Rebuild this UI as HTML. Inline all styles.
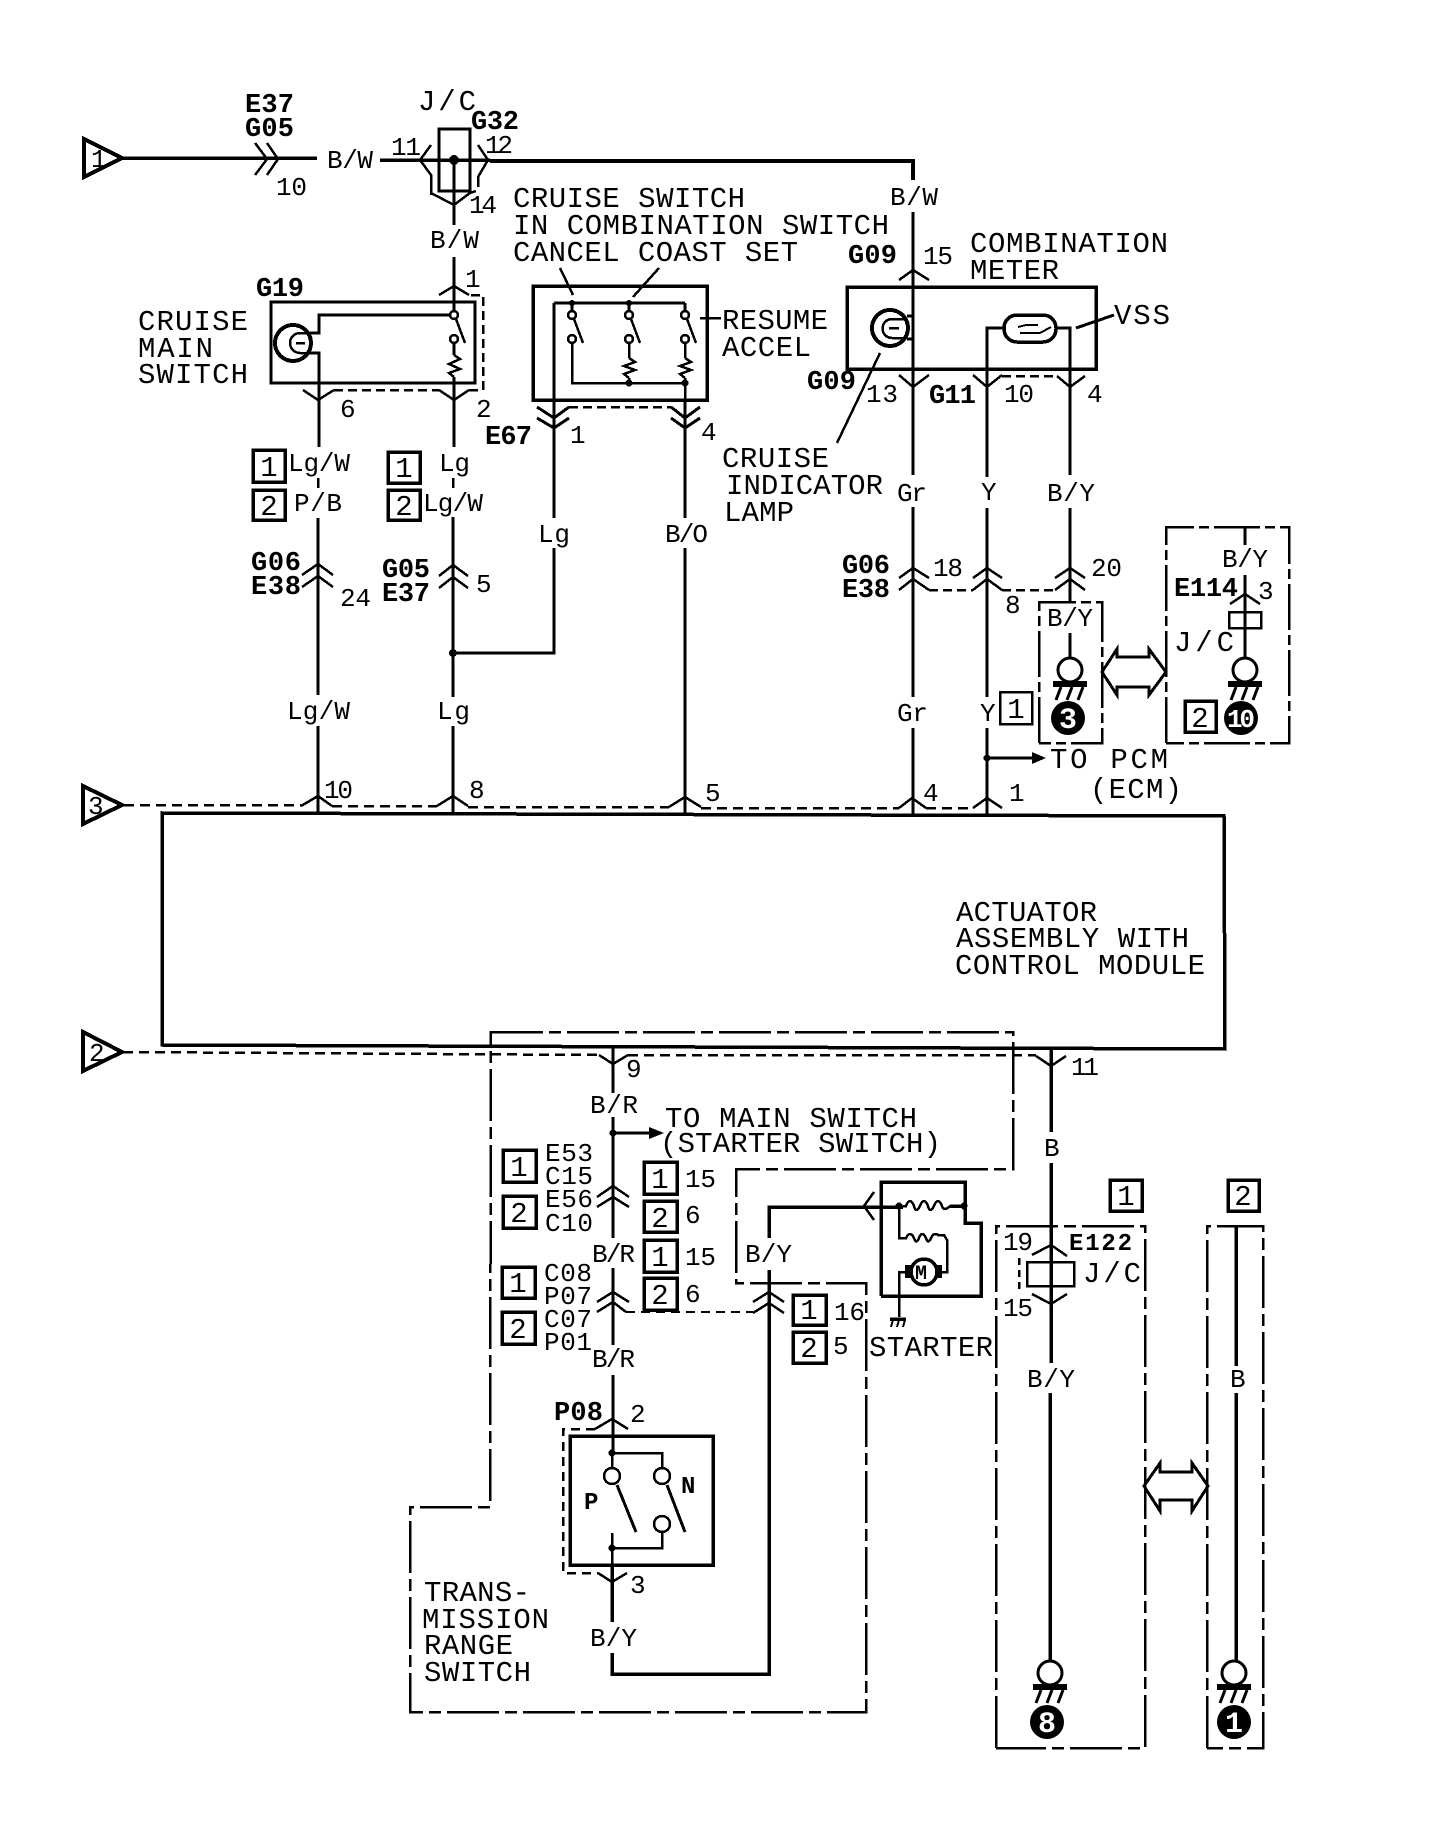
<!DOCTYPE html>
<html><head><meta charset="utf-8"><title>Cruise control wiring diagram</title>
<style>
html,body{margin:0;padding:0;background:#fff}
svg{display:block}
text{font-family:"Liberation Mono",monospace;fill:#000;stroke:none}
.b{font-size:29px}
.m{font-size:26px}
.k{font-size:27px;font-weight:bold}
.w{fill:#fff;font-weight:bold;font-size:30px;text-anchor:middle}
.c{text-anchor:middle}
</style></head><body>
<svg width="1440" height="1828" viewBox="0 0 1440 1828" xmlns="http://www.w3.org/2000/svg">
<defs>
<g id="g"><circle cx="0" cy="0" r="12" fill="#fff" stroke="#000" stroke-width="3"/><rect x="-17" y="11" width="34" height="6" fill="#000"/><path d="M-9 17l-5 13M2 17l-5 13M13 17l-5 13" stroke="#000" stroke-width="3" fill="none"/></g>
</defs>
<rect width="1440" height="1828" fill="#fff"/>
<g fill="none" stroke="#000" stroke-width="3" shape-rendering="crispEdges">
<!-- triangles -->
<polygon points="84,139 84,177 122,158" stroke-width="4"/>
<polygon points="83,786 83,824 122,805" stroke-width="4"/>
<polygon points="83,1032 83,1071 122,1052" stroke-width="4"/>
<!-- top wire -->
<path d="M122 158H317M380 160H490" stroke-width="3.5"/>
<path d="M490 161H913V180" stroke-width="4"/>
<path d="M913 212V475M913 507V697M913 728V814"/>
<polyline points="255,143 267,159 255,175" stroke-width="2.5"/><polyline points="267,143 278,159 267,175" stroke-width="2.5"/>
<!-- J/C G32 -->
<rect x="439" y="129" width="31" height="62"/>
<circle cx="454" cy="160" r="5" fill="#000" stroke="none"/>
<polyline points="431,145 420,160 431,175 431,195" stroke-width="2.5"/>
<polyline points="478,145 488,160 478,177 478,187" stroke-width="2.5"/>
<polyline points="431,193 454,205 470,193 476,191" stroke-width="2.5"/>
<path d="M454 160V225M454 257V311"/>
<!-- G19 -->
<rect x="271" y="302" width="204" height="81"/>
<circle cx="293" cy="343" r="18" stroke-width="4"/>
<path d="M310 333H300A10 10 0 0 0 300 353H310M296 343h9" stroke-width="2.5"/>
<path d="M310 333H319V315H450M310 353H319V447" />
<path d="M454 343V355M454 377V447"/>
<circle cx="454" cy="315" r="4" stroke-width="2.5" fill="#fff"/><circle cx="454" cy="339" r="4" stroke-width="2.5" fill="#fff"/>
<path d="M456 319L465 343" stroke-width="2.5"/>
<polyline points="454,355 460,359 449,364 460,369 449,373 454,377" stroke-width="2.5"/>
<polyline points="303,390 318,400 334,390" stroke-width="2.5"/>
<polyline points="439,390 454,400 469,390" stroke-width="2.5"/>
<polyline points="439,295 454,286 469,295" stroke-width="2.5"/>
<path d="M334 390H439M469 390H483V295H470" stroke-dasharray="9 5" stroke-width="2.5"/>
<path d="M318 478V488M453 478V488" stroke-width="2.5"/>
<!-- cruise switch -->
<rect x="533" y="286" width="174" height="114" stroke-width="3.5"/>
<path d="M554 303H685M554 303V518M685 303V311M572 303V311M629 303V311"/>
<path d="M560 268L573 295M659 268L633 297M700 318H721" stroke-width="2.5"/>
<circle cx="572" cy="303" r="3" fill="#000" stroke="none"/><circle cx="629" cy="303" r="3" fill="#000" stroke="none"/>
<g stroke-width="2.5">
<circle cx="572" cy="315" r="4" fill="#fff"/><circle cx="572" cy="339" r="4" fill="#fff"/>
<circle cx="629" cy="315" r="4" fill="#fff"/><circle cx="629" cy="339" r="4" fill="#fff"/>
<circle cx="685" cy="315" r="4" fill="#fff"/><circle cx="685" cy="339" r="4" fill="#fff"/>
<path d="M574 319L583 343M631 319L640 343M687 319L696 343"/>
<path d="M572 343V383H685M629 343V358M685 343V358M629 378V383M685 378V400"/>
<polyline points="629,358 635,362 624,366 635,370 624,374 629,378"/>
<polyline points="685,358 691,362 680,366 691,370 680,374 685,378"/>
</g>
<circle cx="629" cy="383" r="3.5" fill="#000" stroke="none"/><circle cx="685" cy="383" r="3.5" fill="#000" stroke="none"/>
<polyline points="537,407 554,418 569,407"/><polyline points="537,418 554,428 569,418"/>
<polyline points="671,407 685,418 700,407"/><polyline points="671,418 685,428 700,418"/>
<path d="M569 407H671" stroke-dasharray="9 5" stroke-width="2.5"/>
<path d="M685 400V518M685 548V814M554 548V653H453"/>
<!-- lower left wires -->
<path d="M318 518V695M318 726V814M453 517V697M453 726V814"/>
<circle cx="453" cy="653" r="4" fill="#000" stroke="none"/>
<polyline points="302,575 318,564 333,575" stroke-width="2.5"/><polyline points="302,587 318,576 333,587" stroke-width="2.5"/>
<polyline points="439,576 453,565 468,576" stroke-width="2.5"/><polyline points="439,588 453,577 468,588" stroke-width="2.5"/>
<!-- dashed 3 -->
<path d="M124 805H301M332 806H437M468 807H669M701 808H899M926 808H973" stroke-dasharray="10 6" stroke-width="2.5"/>
<polyline points="301,806 318,796 332,806" stroke-width="2.5"/>
<polyline points="437,806 453,796 468,806" stroke-width="2.5"/>
<polyline points="669,807 685,797 701,807" stroke-width="2.5"/>
<polyline points="899,808 912,798 926,808" stroke-width="2.5"/>
<polyline points="973,808 987,798 1002,808" stroke-width="2.5"/>
<!-- actuator box -->
<polygon points="162,813 1224,816 1225,1049 162,1045" stroke-width="3.5"/>
<!-- meter -->
<polyline points="899,280 913,270 929,280" stroke-width="2.5"/>
<rect x="847" y="287" width="249" height="82" stroke-width="3.5"/>
<circle cx="890" cy="328" r="18" stroke-width="4"/>
<path d="M904 319H892A9 9 0 0 0 892 338H904M889 328h10" stroke-width="2.5"/>
<path d="M907 316H913M907 339H913"/>
<rect x="1004" y="315" width="52" height="27" rx="13" stroke-width="3.5"/>
<path d="M1018 327L1026 325H1038M1020 333H1040L1051 327" stroke-width="2"/>
<path d="M1004 328H987V477M987 508V697M987 728V814M1056 328H1070V475M1070 508V602M1076 328L1114 315"/>
<path d="M880 353L837 443" stroke-width="2.5"/>
<polyline points="899,375 913,387 929,375" stroke-width="2.5"/>
<polyline points="973,375 987,387 1002,375" stroke-width="2.5"/>
<polyline points="1057,376 1070,387 1085,376" stroke-width="2.5"/>
<path d="M1002 376H1057" stroke-dasharray="9 5" stroke-width="2.5"/>
<polyline points="899,578 913,568 929,578" stroke-width="2.5"/><polyline points="899,590 913,579 929,590" stroke-width="2.5"/>
<polyline points="973,578 987,568 1002,578" stroke-width="2.5"/><polyline points="973,590 987,579 1002,590" stroke-width="2.5"/>
<polyline points="1055,578 1070,568 1085,578" stroke-width="2.5"/><polyline points="1055,590 1070,579 1085,590" stroke-width="2.5"/>
<path d="M929 590H973M1002 590H1055" stroke-dasharray="9 5" stroke-width="2.5"/>
<!-- ground variant boxes -->
<path d="M1039 743V602H1102V743H1039" stroke-dasharray="46 5 10 5" stroke-width="2.5"/>
<path d="M1166 743V527H1289V743H1166" stroke-dasharray="46 5 10 5" stroke-width="2.5"/>
<path d="M1070 633V658M1245 527V545M1245 575V658"/>
<polyline points="1230,604 1245,594 1260,604" stroke-width="2.5"/>
<rect x="1229" y="612" width="32" height="16" stroke-width="2.5"/>
<polygon points="1102,672 1117,649 1117,657 1149,657 1149,649 1166,672 1149,695 1149,687 1117,687 1117,695" stroke-width="3"/>
<path d="M987 758H1032" />
<polygon points="1032,752 1046,758 1032,764" fill="#000" stroke="none"/>
<circle cx="987" cy="758" r="3.5" fill="#000" stroke="none"/>
<!-- dashed 2 -->
<path d="M123 1052L599 1055M628 1055H1036" stroke-dasharray="10 6" stroke-width="2.5"/>
<polyline points="599,1055 613,1064 628,1055" stroke-width="2.5"/>
<polyline points="1036,1056 1051,1066 1066,1056" stroke-width="2.5"/>
<!-- dash-dot big outline -->
<polygon points="491,1032 1013,1032 1013,1169 736,1169 736,1283 866,1283 866,1712 410,1712 410,1507 490,1507" stroke-dasharray="52 6 12 6" stroke-width="2.5"/>
<!-- B/R column -->
<path d="M613 1048V1093M613 1117V1238M613 1268V1345M613 1375V1453"/>
<path d="M613 1133H650"/>
<polygon points="649,1127 664,1133 649,1139" fill="#000" stroke="none"/>
<circle cx="613" cy="1133" r="3.5" fill="#000" stroke="none"/>
<polyline points="597,1197 613,1186 629,1197" stroke-width="2.5"/><polyline points="597,1207 613,1197 629,1207" stroke-width="2.5"/>
<polyline points="597,1302 613,1292 629,1302" stroke-width="2.5"/><polyline points="597,1312 613,1302 626,1312" stroke-width="2.5"/>
<path d="M626 1312H753" stroke-dasharray="9 6" stroke-width="2"/>
<polyline points="753,1302 769,1292 784,1302" stroke-width="2.5"/><polyline points="753,1313 769,1303 784,1313" stroke-width="2.5"/>
<!-- starter -->
<path d="M769 1238V1207H903M950 1206H965M769 1270V1674H612V1653M612 1565V1622" stroke-width="3.5"/>
<polyline points="874,1192 864,1206 874,1220" stroke-width="2.5"/>
<polyline points="881,1296 881,1182 965,1182 965,1223 981,1223 981,1296 881,1296" stroke-width="3.5"/>
<circle cx="899" cy="1206" r="3.5" fill="#000" stroke="none"/><circle cx="964" cy="1206" r="3.5" fill="#000" stroke="none"/>
<path d="M903 1206H906Q910 1196 914 1206Q916 1214 920 1206Q924 1196 928 1206Q930 1214 934 1206Q938 1196 942 1206Q944 1212 950 1206" stroke-width="2.5"/>
<path d="M899 1206V1238H906Q910 1230 914 1238Q916 1245 919 1238Q922 1230 926 1238Q928 1245 931 1238Q934 1232 938 1235H944L947 1240V1272H941M905 1272H899V1317" stroke-width="2.5"/>
<circle cx="924" cy="1272" r="13" stroke-width="3.5"/>
<rect x="905" y="1265" width="6" height="13" fill="#000" stroke="none"/><rect x="937" y="1265" width="5" height="13" fill="#000" stroke="none"/>
<path d="M890 1319H906" stroke-width="3.5"/><path d="M893 1320l-2 7M899 1320l-2 7M905 1320l-2 7" stroke-width="2"/>
<!-- P08 -->
<rect x="570" y="1436" width="143" height="129" stroke-width="3.5"/>
<polyline points="595,1429 612,1419 628,1429" stroke-width="2.5"/>
<polyline points="598,1573 612,1582 627,1573" stroke-width="2.5"/>
<path d="M595 1429H563V1573H598" stroke-dasharray="9 6" stroke-width="2.5"/>
<path d="M612 1453V1468M612 1453H662V1468M662 1532V1548H612M612 1533V1565" stroke-width="2.5"/>
<circle cx="612" cy="1453" r="3.5" fill="#000" stroke="none"/><circle cx="612" cy="1548" r="3.5" fill="#000" stroke="none"/>
<circle cx="612" cy="1476" r="8" fill="#fff" stroke-width="2.5"/><circle cx="662" cy="1476" r="8" fill="#fff" stroke-width="2.5"/><circle cx="662" cy="1524" r="8" fill="#fff" stroke-width="2.5"/>
<path d="M617 1485L636 1532M667 1485L685 1532"/>
<!-- bottom right -->
<path d="M1051 1048V1132M1051 1163V1363M1050 1393V1661M1236 1226V1366M1236 1393V1661" stroke-width="3.5"/>
<rect x="1027" y="1262" width="47" height="24" stroke-width="2.5"/>
<polyline points="1032,1255 1051,1245 1067,1256" stroke-width="2.5"/>
<polyline points="1032,1294 1051,1304 1067,1294" stroke-width="2.5"/>
<path d="M1019 1258V1294" stroke-dasharray="7 5" stroke-width="2.5"/>
<path d="M996 1748V1226H1145V1748H996" stroke-dasharray="52 6 12 6" stroke-width="2.5"/>
<path d="M1207 1748V1226H1263V1748H1207" stroke-dasharray="52 6 12 6" stroke-width="2.5"/>
<polygon points="1144,1486 1160,1463 1160,1472 1192,1472 1192,1463 1208,1486 1192,1511 1192,1500 1160,1500 1160,1511" stroke-width="3"/>
<!-- boxed numbers -->
<g stroke-width="3.5">
<rect x="253" y="450" width="32" height="32"/><rect x="253" y="490" width="32" height="30"/>
<rect x="388" y="452" width="32" height="31"/><rect x="388" y="490" width="32" height="30"/>
<rect x="1000" y="692" width="32" height="32" stroke-width="2.5"/><rect x="1185" y="701" width="31" height="31"/>
<rect x="503" y="1150" width="33" height="32"/><rect x="503" y="1196" width="33" height="32"/>
<rect x="502" y="1267" width="33" height="31"/><rect x="502" y="1312" width="33" height="32"/>
<rect x="644" y="1162" width="33" height="32"/><rect x="644" y="1201" width="33" height="31"/>
<rect x="644" y="1240" width="33" height="32"/><rect x="644" y="1278" width="33" height="32"/>
<rect x="793" y="1295" width="33" height="30"/><rect x="793" y="1332" width="33" height="31"/>
<rect x="1110" y="1180" width="32" height="31"/><rect x="1228" y="1180" width="31" height="31"/>
</g>
</g>
<!-- grounds -->
<use href="#g" x="1070" y="670"/><use href="#g" x="1245" y="670"/>
<use href="#g" x="1050" y="1673"/><use href="#g" x="1234" y="1673"/>
<circle cx="1068" cy="718" r="17"/><circle cx="1241" cy="718" r="17"/><circle cx="1047" cy="1722" r="17"/><circle cx="1234" cy="1722" r="17"/>
<text class="w" x="1068" y="728">3</text><text class="w" x="1227" y="727" style="font-size:26px;text-anchor:start" textLength="28">10</text><text class="w" x="1047" y="1732">8</text><text class="w" x="1234" y="1732">1</text>

<!-- triangles labels -->
<text class="m" x="91" y="167">1</text><text class="m" x="88" y="814">3</text><text class="m" x="89" y="1061">2</text>
<text x="915" y="1279" style="font-size:20px;font-weight:bold">M</text>
<!-- top labels -->
<text class="k" x="245" y="112" textLength="49">E37</text><text class="k" x="245" y="136" textLength="49">G05</text>
<text class="m" x="276" y="195" textLength="31">10</text>
<text class="m" x="327" y="168" textLength="46">B/W</text>
<text class="b" x="418" y="110" textLength="58">J/C</text>
<text class="k" x="471" y="129" textLength="48">G32</text>
<text class="m" x="391" y="155" textLength="30">11</text><text class="m" x="485" y="153" textLength="28">12</text>
<text class="m" x="469" y="213" textLength="28">14</text>
<text class="m" x="430" y="248" textLength="49">B/W</text>
<text class="m" x="465" y="287">1</text><text class="m" x="476" y="417">2</text><text class="m" x="340" y="417">6</text>
<text class="k" x="256" y="296" textLength="48">G19</text>
<text class="b" x="138" y="330" textLength="110">CRUISE</text><text class="b" x="138" y="357" textLength="75">MAIN</text><text class="b" x="138" y="383" textLength="110">SWITCH</text>
<text class="b" x="513" y="207" textLength="232">CRUISE SWITCH</text>
<text class="b" x="513" y="234" textLength="376">IN COMBINATION SWITCH</text>
<text class="b" x="513" y="261" textLength="285">CANCEL COAST SET</text>
<text class="b" x="722" y="329" textLength="106">RESUME</text><text class="b" x="722" y="356" textLength="89">ACCEL</text>
<text class="k" x="485" y="444" textLength="47">E67</text>
<text class="m" x="570" y="443">1</text><text class="m" x="701" y="440">4</text>
<!-- left wire labels -->
<text class="b c" x="269" y="476">1</text><text class="b c" x="269" y="515">2</text>
<text class="b c" x="404" y="477">1</text><text class="b c" x="404" y="515">2</text>
<text class="m" x="288" y="471" textLength="62">Lg/W</text><text class="m" x="294" y="511" textLength="48">P/B</text>
<text class="m" x="439" y="471" textLength="31">Lg</text><text class="m" x="423" y="511" textLength="60">Lg/W</text>
<text class="m" x="538" y="542" textLength="32">Lg</text><text class="m" x="665" y="542" textLength="43">B/O</text>
<text class="k" x="251" y="570" textLength="50">G06</text><text class="k" x="251" y="594" textLength="50">E38</text>
<text class="m" x="340" y="606" textLength="31">24</text>
<text class="k" x="382" y="577" textLength="48">G05</text><text class="k" x="382" y="601" textLength="48">E37</text>
<text class="m" x="476" y="592">5</text>
<text class="m" x="287" y="719" textLength="63">Lg/W</text><text class="m" x="437" y="719" textLength="33">Lg</text>
<text class="m" x="324" y="798" textLength="29">10</text><text class="m" x="469" y="798">8</text><text class="m" x="705" y="801">5</text>
<text class="m" x="923" y="801">4</text><text class="m" x="1009" y="801">1</text>
<!-- meter labels -->
<text class="m" x="890" y="205" textLength="48">B/W</text>
<text class="k" x="848" y="263" textLength="49">G09</text><text class="m" x="923" y="264" textLength="30">15</text>
<text class="b" x="970" y="252" textLength="198">COMBINATION</text><text class="b" x="970" y="279" textLength="89">METER</text>
<text class="b" x="1114" y="324" textLength="56">VSS</text>
<text class="k" x="807" y="389" textLength="49">G09</text><text class="m" x="866" y="402" textLength="32">13</text>
<text class="k" x="929" y="403" textLength="47">G11</text><text class="m" x="1004" y="402" textLength="30">10</text><text class="m" x="1087" y="402">4</text>
<text class="b" x="722" y="467" textLength="107">CRUISE</text><text class="b" x="726" y="494" textLength="157">INDICATOR</text><text class="b" x="724" y="521" textLength="70">LAMP</text>
<text class="m" x="897" y="501" textLength="30">Gr</text><text class="m" x="981" y="500">Y</text><text class="m" x="1047" y="501" textLength="48">B/Y</text>
<text class="k" x="842" y="573" textLength="48">G06</text><text class="k" x="842" y="597" textLength="48">E38</text>
<text class="m" x="933" y="576" textLength="30">18</text><text class="m" x="1091" y="576" textLength="31">20</text><text class="m" x="1005" y="613">8</text>
<text class="m" x="1047" y="626" textLength="46">B/Y</text><text class="m" x="1222" y="567" textLength="46">B/Y</text>
<text class="k" x="1174" y="596" textLength="64">E114</text><text class="m" x="1258" y="599">3</text>
<text class="b" x="1174" y="651" textLength="60">J/C</text>
<text class="m" x="897" y="721" textLength="31">Gr</text><text class="m" x="980" y="721">Y</text>
<text class="b c" x="1016" y="718">1</text><text class="b c" x="1200" y="727">2</text>
<text class="b" x="1050" y="768" textLength="118">TO PCM</text>
<text class="b" x="1090" y="798" textLength="92">(ECM)</text>
<text class="b" x="956" y="921" textLength="141">ACTUATOR</text>
<text class="b" x="956" y="947" textLength="233">ASSEMBLY WITH</text>
<text class="b" x="955" y="974" textLength="250">CONTROL MODULE</text>
<!-- lower -->
<text class="m" x="626" y="1077">9</text>
<text class="m" x="590" y="1113" textLength="48">B/R</text>
<text class="b" x="665" y="1127" textLength="252">TO MAIN SWITCH</text>
<text class="b" x="660" y="1152" textLength="281">(STARTER SWITCH)</text>
<text class="b c" x="519" y="1176">1</text><text class="b c" x="519" y="1222">2</text>
<text class="b c" x="518" y="1292">1</text><text class="b c" x="518" y="1338">2</text>
<text class="m" x="545" y="1161" textLength="48">E53</text><text class="m" x="545" y="1184" textLength="48">C15</text><text class="m" x="545" y="1207" textLength="48">E56</text><text class="m" x="545" y="1231" textLength="48">C10</text>
<text class="m" x="544" y="1281" textLength="48">C08</text><text class="m" x="544" y="1304" textLength="48">P07</text><text class="m" x="544" y="1327" textLength="48">C07</text><text class="m" x="544" y="1350" textLength="48">P01</text>
<text class="b c" x="660" y="1188">1</text><text class="b c" x="660" y="1227">2</text><text class="b c" x="660" y="1266">1</text><text class="b c" x="660" y="1304">2</text>
<text class="m" x="685" y="1187" textLength="31">15</text><text class="m" x="685" y="1223">6</text><text class="m" x="685" y="1265" textLength="31">15</text><text class="m" x="685" y="1302">6</text>
<text class="m" x="592" y="1262" textLength="43">B/R</text><text class="m" x="592" y="1367" textLength="43">B/R</text>
<text class="m" x="745" y="1262" textLength="47">B/Y</text>
<text class="b c" x="809" y="1319">1</text><text class="b c" x="809" y="1357">2</text>
<text class="m" x="834" y="1320" textLength="31">16</text><text class="m" x="833" y="1354">5</text>
<text class="b" x="869" y="1356" textLength="124">STARTER</text>
<text class="k" x="554" y="1420" textLength="49">P08</text><text class="m" x="630" y="1422">2</text>
<text class="k" x="584" y="1509" style="font-size:24px">P</text><text class="k" x="681" y="1493" style="font-size:24px">N</text>
<text class="m" x="630" y="1593">3</text>
<text class="b" x="424" y="1601" textLength="106">TRANS-</text><text class="b" x="422" y="1628" textLength="127">MISSION</text><text class="b" x="424" y="1654" textLength="89">RANGE</text><text class="b" x="424" y="1681" textLength="107">SWITCH</text>
<text class="m" x="590" y="1646" textLength="47">B/Y</text>
<text class="m" x="1071" y="1075" textLength="28">11</text>
<text class="m" x="1044" y="1156">B</text>
<text class="b c" x="1126" y="1205">1</text><text class="b c" x="1243" y="1205">2</text>
<text class="m" x="1003" y="1250" textLength="30">19</text><text class="k" x="1069" y="1250" textLength="63" style="font-size:24px">E122</text>
<text class="b" x="1083" y="1282" textLength="58">J/C</text><text class="m" x="1003" y="1316" textLength="30">15</text>
<text class="m" x="1027" y="1387" textLength="48">B/Y</text><text class="m" x="1230" y="1387">B</text>
</svg>
</body></html>
